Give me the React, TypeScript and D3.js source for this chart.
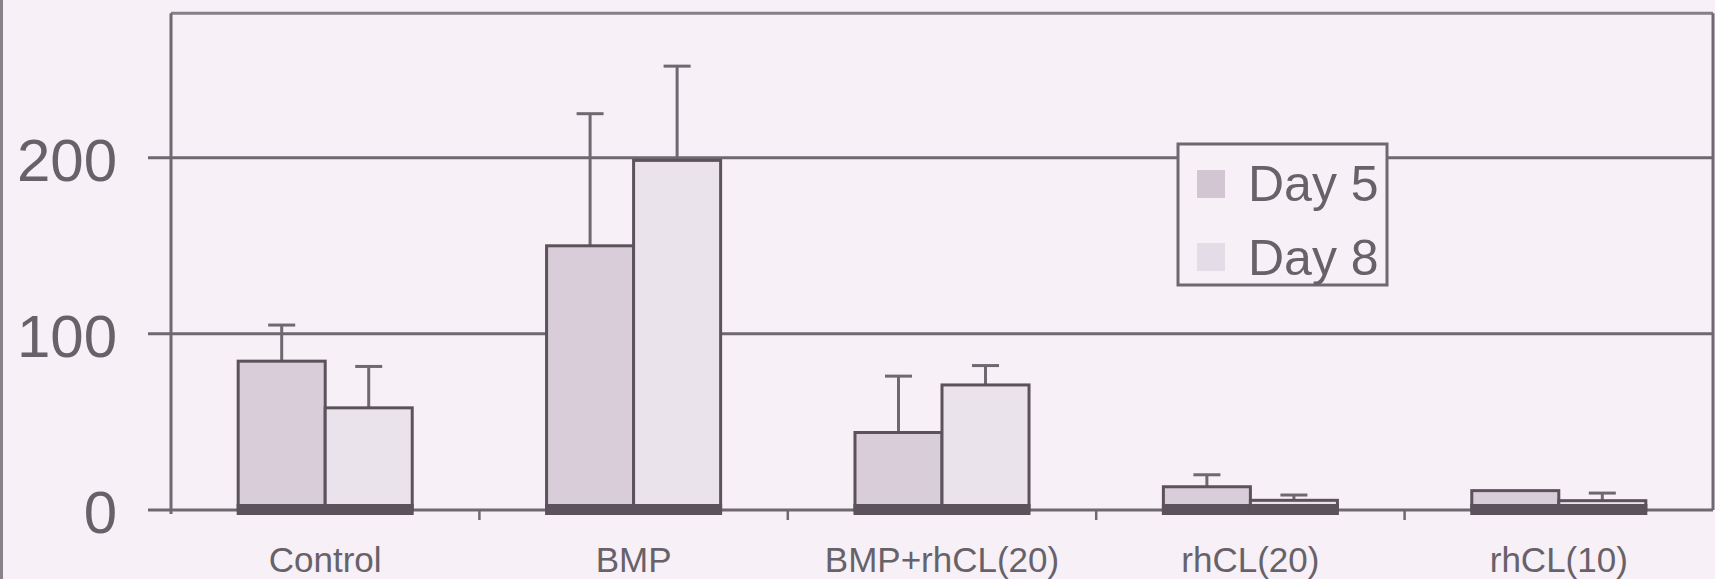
import React from "react";
import * as d3 from "d3";

const categories = ["Control", "BMP", "BMP+rhCL(20)", "rhCL(20)", "rhCL(10)"];
const seriesNames = ["Day 5", "Day 8"];
const day5 = [84.5, 150, 44, 13.2, 11];
const day5ErrTop = [105, 225, 76, 20, 11];
const day8 = [58, 198.5, 71, 5.5, 5.3];
const day8ErrTop = [81.5, 252, 82, 8.5, 9.6];
const yTicks = [0, 100, 200];

const W = 1715;
const H = 579;
const BG = "#f7f0f6";
const LINE = "#6f6870";
const DARK = "#5c525b";
const TEXT = "#67626a";
const FILLS = ["#d9cdd9", "#ebe3ec"];
const SWATCH = ["#d2c6d2", "#e4dce6"];

export default function App() {
  const left = 171;
  const right = 1713;
  const y = d3.scaleLinear().domain([0, 282]).range([510, 13.3]);
  const x = d3.scaleBand<string>().domain(categories).range([left, right]).padding(0);
  const bw = x.bandwidth();
  const xs = d3
    .scaleBand<string>()
    .domain(seriesNames)
    .range([0, bw])
    .paddingInner(0)
    .paddingOuter(0.772);
  const barW = xs.bandwidth();
  const values = [day5, day8];
  const errs = [day5ErrTop, day8ErrTop];
  const y0 = y(0);
  const top = y(282);
  const font = "'Liberation Sans', Arial, sans-serif";

  return (
    <svg
      width={W}
      height={H}
      style={{ position: "absolute", left: 0, top: 0, background: BG }}
      fontFamily={font}
    >
      <rect x={0} y={0} width={W} height={H} fill={BG} />
      <line x1={1.5} x2={1.5} y1={0} y2={H} stroke="#8a828a" strokeWidth={3} />
      {/* frame */}
      <line x1={left} x2={right} y1={top} y2={top} stroke="#858088" strokeWidth={3} />
      <line x1={right} x2={right} y1={top} y2={y0} stroke={LINE} strokeWidth={3} />
      {/* gridlines and y ticks */}
      {yTicks.map((t) => (
        <g key={t}>
          <line x1={148} x2={right} y1={y(t)} y2={y(t)} stroke={LINE} strokeWidth={3} />
          <text
            x={117}
            y={y(t) + 23}
            textAnchor="end"
            fontSize={60}
            fill={TEXT}
          >
            {t}
          </text>
        </g>
      ))}
      <line x1={left} x2={left} y1={top} y2={y0 + 4} stroke={LINE} strokeWidth={3} />
      {/* x ticks */}
      {categories.slice(1).map((c) => (
        <line key={c} x1={x(c)!} x2={x(c)!} y1={y0} y2={y0 + 10} stroke={LINE} strokeWidth={2.5} />
      ))}
      {/* bars */}
      {categories.map((c, i) =>
        seriesNames.map((s, k) => {
          const bx = x(c)! + xs(s)!;
          const v = values[k][i];
          const e = errs[k][i];
          const cx = bx + barW / 2;
          return (
            <g key={c + s}>
              {e > v && (
                <g>
                  <line x1={cx} x2={cx} y1={y(v)} y2={y(e)} stroke={LINE} strokeWidth={3} />
                  <line x1={cx - 13.5} x2={cx + 13.5} y1={y(e)} y2={y(e)} stroke={LINE} strokeWidth={3} />
                </g>
              )}
              <rect
                x={bx}
                y={y(v)}
                width={barW}
                height={y0 - y(v)}
                fill={FILLS[k]}
                stroke={DARK}
                strokeWidth={3}
              />
              <rect x={bx - 1.5} y={y0 - 6} width={barW + 3} height={11} fill={DARK} />
            </g>
          );
        })
      )}
      {/* x labels */}
      {categories.map((c) => (
        <text
          key={c}
          x={x(c)! + bw / 2}
          y={572}
          textAnchor="middle"
          fontSize={35}
          fill={TEXT}
        >
          {c}
        </text>
      ))}
      {/* legend */}
      <rect x={1178} y={144} width={209} height={141} fill={BG} stroke={LINE} strokeWidth={3} />
      {seriesNames.map((s, k) => (
        <g key={s}>
          <rect x={1197} y={170 + k * 73} width={28} height={28} fill={SWATCH[k]} />
          <text x={1248} y={201 + k * 74} fontSize={50} fill={TEXT}>
            {s}
          </text>
        </g>
      ))}
    </svg>
  );
}
